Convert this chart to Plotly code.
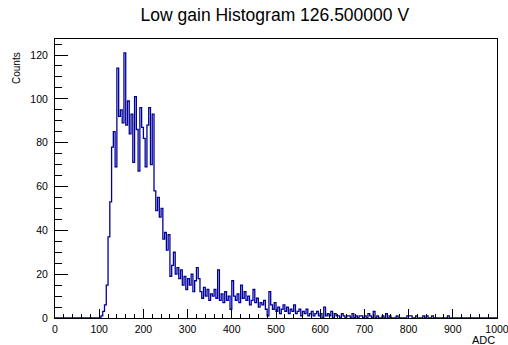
import plotly.graph_objects as go

# Histogram definition: 250 bins of width 4 ADC over [0, 1000)
bin_width = 4
n_bins = 250
x_min = 0

counts_leading = [0] * 25  # bins covering 0-100 ADC
counts_main = [
    0, 1, 3, 6, 15, 37, 53, 78, 85, 69,
    114, 92, 95, 89, 121, 88, 99, 84, 93, 71,
    101, 86, 67, 96, 87, 82, 69, 88, 96, 70,
    93, 58, 49, 55, 46, 50, 36, 39, 31, 38,
    19, 24, 30, 20, 23, 18, 22, 15, 19, 13,
    18, 15, 20, 12, 17, 23, 18, 12, 9, 14,
    10, 13, 8, 11, 10, 13, 9, 22, 8, 11,
    7, 12, 8, 10, 4, 17, 10, 8, 11, 7,
    15, 9, 12, 8, 10, 6, 8, 13, 7, 9,
    5, 7, 6, 8, 4, 1, 12, 6, 4, 7,
    3, 5, 2, 4, 6, 3, 5, 2, 4, 3,
    6, 2, 3, 4, 1, 3, 2, 4, 1, 2,
    3, 1, 2, 3, 1, 2, 0, 5, 1, 2,
    1, 3, 0, 2, 1,
]
counts_tail = [
    1, 0, 2, 1, 0, 1, 1, 0, 2, 0, 1, 0, 1, 1, 0,
    1, 0, 2, 1, 0, 3, 0, 1, 0, 0, 1, 0, 2, 0, 1,
    0, 0, 0, 1, 0, 0, 0, 0, 0, 1, 1, 1, 0, 0, 1,
    0, 0, 0, 1, 0, 1, 0, 0, 1, 0, 0, 0, 0, 0, 0,
    0, 0, 1, 0, 0,
]
counts = counts_leading + counts_main + counts_tail
counts = counts + [0] * (n_bins - len(counts))

title_text = "Low gain Histogram 126.500000 V"
x_title = "ADC"
y_title = "Counts"

edges = [x_min + i * bin_width for i in range(n_bins + 1)]
ys = counts + [counts[-1]]

fig = go.Figure()
fig.add_trace(go.Scatter(
    x=edges, y=ys, mode="lines", line_shape="hv",
    line=dict(color="#000099", width=1.3), hoverinfo="skip", showlegend=False,
))

font_family = "Liberation Sans, Arial, sans-serif"

fig.update_layout(
    width=508, height=345,
    margin=dict(l=55, r=11, t=39, b=27, autoexpand=False),
    paper_bgcolor="white", plot_bgcolor="white",
    font=dict(family=font_family, color="black"),
    title=dict(text=title_text, font=dict(size=17.5, family=font_family, color="black"),
               xref="container", yref="container", x=0.541, y=1 - 15 / 345,
               xanchor="center", yanchor="middle"),
    showlegend=False,
)
fig.update_xaxes(
    range=[0, 1000], showgrid=False, zeroline=False, automargin=False,
    showline=True, linecolor="black", linewidth=1, mirror=True,
    ticks="inside", ticklen=9, tickcolor="black", tickwidth=1,
    tick0=0, dtick=100, tickfont=dict(size=10.5),
    minor=dict(ticks="inside", ticklen=4.5, dtick=20, tick0=0, tickcolor="black", showgrid=False),
    ticklabelstandoff=1, ticklabeloverflow="allow",
)
fig.update_yaxes(
    range=[0, 127.3], showgrid=False, zeroline=False, automargin=False,
    showline=True, linecolor="black", linewidth=1, mirror=True,
    ticks="inside", ticklen=13, tickcolor="black", tickwidth=1,
    tick0=0, dtick=20, tickfont=dict(size=10.5),
    minor=dict(ticks="inside", ticklen=6.5, dtick=5, tick0=0, tickcolor="black", showgrid=False),
    ticklabelstandoff=4, ticklabeloverflow="allow",
)
fig.add_annotation(text=y_title, textangle=-90, xref="paper", yref="paper",
                   x=-0.086, y=0.9606, xanchor="center", yanchor="top",
                   showarrow=False, font=dict(size=10, family=font_family, color="black"))
fig.add_annotation(text=x_title, xref="paper", yref="paper",
                   x=1.0, y=-0.079, xanchor="right", yanchor="middle",
                   showarrow=False, font=dict(size=11, family=font_family, color="black"))

fig.write_html("out.html")
